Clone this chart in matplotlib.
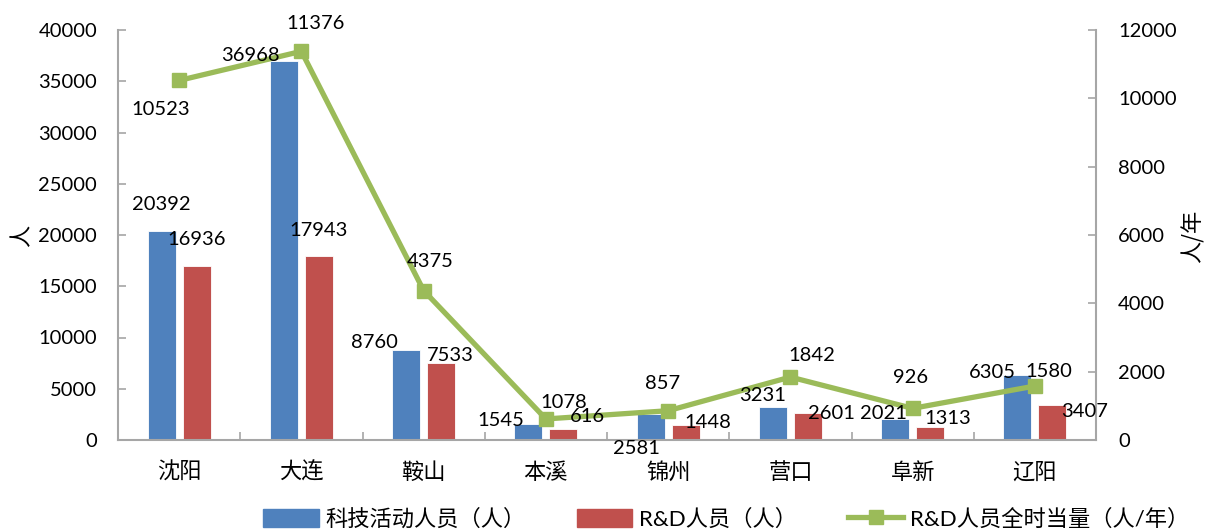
import matplotlib
matplotlib.use('Agg')
from matplotlib import pyplot as plt
from matplotlib.patches import Patch
from matplotlib.lines import Line2D
import numpy as np

# 各市科技人员情况
cities = ['沈阳', '大连', '鞍山', '本溪', '锦州', '营口', '阜新', '辽阳']
staff = [20392, 36968, 8760, 1545, 2581, 3231, 2021, 6305]       # 科技活动人员（人）
rd_staff = [16936, 17943, 7533, 1078, 1448, 2601, 1313, 3407]    # R&D人员（人）
rd_fte = [10523, 11376, 4375, 616, 857, 1842, 926, 1580]         # R&D人员全时当量（人/年）

series_names = ['科技活动人员（人）', 'R&D人员（人）', 'R&D人员全时当量（人/年）']

# label offsets in pixels (dx, dy)
staff_off = [(0, 26), (-33, 6), (-32, 8), (-28, 4), (-14, -35), (-10, 11), (-12, 6), (-25, 3)]
rd_off = [(0, 27), (0, 26), (9, 7), (0, 26), (22, 3), (24, 0), (18, 8), (32, -6)]
fte_off = [(-18, -29), (14, 28), (7, 29), (42, 2), (-6, 27), (21, 22), (-2, 31), (14, 15)]

blue = '#4F81BD'
red = '#C0504D'
green = '#9BBB59'
grey = '#A6A6A6'

num_font = ['Lato', 'Noto Sans CJK SC']
cjk_font = ['Noto Sans CJK SC', 'DejaVu Sans']
plt.rcParams['font.family'] = num_font

fig = plt.figure(figsize=(12.07, 5.30), dpi=100)
ax = fig.add_axes([118 / 1207, 1 - 440 / 530, (1096 - 118) / 1207, 410 / 530])
ax2 = ax.twinx()

x = np.arange(len(cities))
w = 0.23
ax.bar(x - 0.143, staff, w, color=blue, edgecolor='white', linewidth=0.6)
ax.bar(x + 0.143, rd_staff, w, color=red, edgecolor='white', linewidth=0.6)
ax2.plot(x, rd_fte, color=green, lw=3.8, marker='s', markersize=10, zorder=3)

ax.set_xlim(-0.5, len(cities) - 0.5)
ax.set_ylim(0, 40000)
ax2.set_ylim(0, 12000)
ax.set_yticks(np.arange(0, 40001, 5000))
ax2.set_yticks(np.arange(0, 12001, 2000))

ax.set_xticks(x)
ax.set_xticklabels(cities, fontfamily=cjk_font, fontsize=16)
ax.set_xticks(np.arange(0.5, len(cities) - 1, 1), minor=True)
ax.tick_params(axis='x', which='major', length=0, pad=15)
ax.tick_params(axis='x', which='minor', direction='in', length=6, color=grey, width=1.2)
ax.tick_params(axis='y', direction='in', length=6, color=grey, width=1.2, labelsize=14.5, pad=15)
ax2.tick_params(axis='y', direction='in', length=6, color=grey, width=1.2, labelsize=14.5, pad=16)

for a in (ax, ax2):
    a.spines['top'].set_visible(False)
    for s in ('left', 'right', 'bottom'):
        a.spines[s].set_color(grey)
        a.spines[s].set_linewidth(1.5)
ax.spines['right'].set_visible(False)
ax2.spines['left'].set_visible(False)
ax2.spines['bottom'].set_visible(False)

fig.text(22 / 1207, 1 - 236 / 530, '人', rotation=90, ha='center', va='center',
         fontsize=16, fontfamily=cjk_font)
fig.text(1193 / 1207, 1 - 236 / 530, '人/年', rotation=90, ha='center', va='center',
         fontsize=16, fontfamily=cjk_font)

# data labels, all on the top axes so they sit above the line
for i in range(len(cities)):
    ax2.annotate(str(staff[i]), (x[i] - 0.143, staff[i]), xycoords=ax.transData,
                 xytext=staff_off[i], textcoords='offset pixels',
                 ha='center', va='center', fontsize=14.5, zorder=5)
    ax2.annotate(str(rd_staff[i]), (x[i] + 0.143, rd_staff[i]), xycoords=ax.transData,
                 xytext=rd_off[i], textcoords='offset pixels',
                 ha='center', va='center', fontsize=14.5, zorder=5)
    ax2.annotate(str(rd_fte[i]), (x[i], rd_fte[i]),
                 xytext=fte_off[i], textcoords='offset pixels',
                 ha='center', va='center', fontsize=14.5, zorder=5)

handles = [Patch(color=blue), Patch(color=red),
           Line2D([0], [0], color=green, lw=3.8, marker='s', markersize=10)]
fig.legend(handles, series_names, loc='center left', bbox_to_anchor=(263 / 1207, 1 - 519 / 530),
           ncol=3, frameon=False, borderpad=0, borderaxespad=0, handlelength=2.5,
           handleheight=0.85, handletextpad=0.3, columnspacing=2.3,
           prop={'family': num_font, 'size': 16})

fig.savefig('out.png', dpi=100)
